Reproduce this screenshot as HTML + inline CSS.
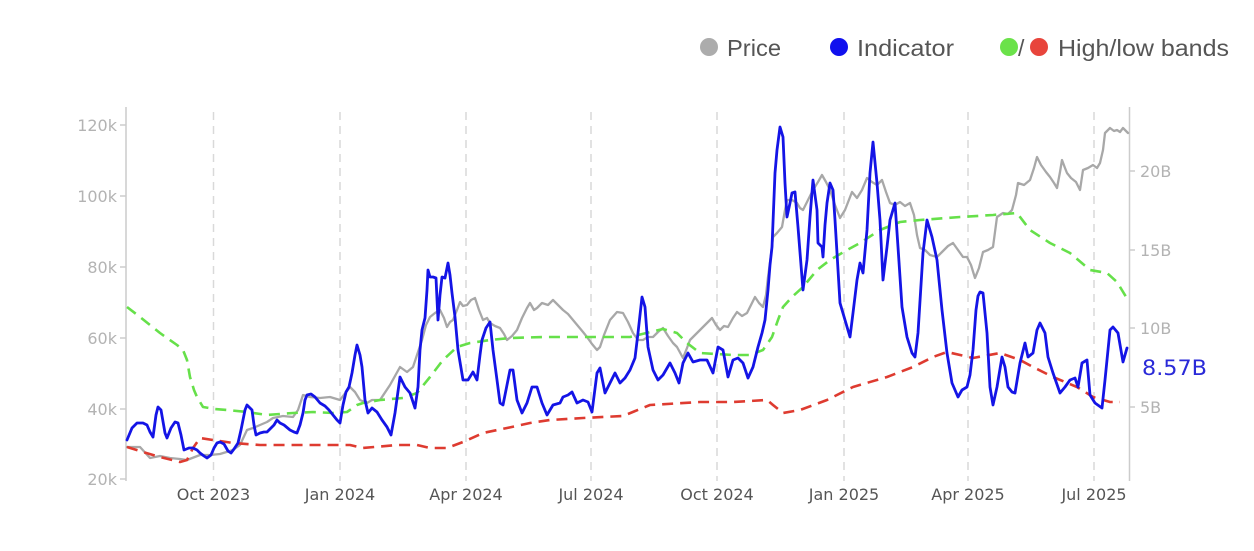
<!DOCTYPE html>
<html>
<head>
<meta charset="utf-8">
<style>
  html,body{margin:0;padding:0;background:#ffffff;}
  svg{display:block;}
</style>
</head>
<body>
<svg width="1254" height="551" viewBox="0 0 1254 551" xmlns="http://www.w3.org/2000/svg">
  <rect x="0" y="0" width="1254" height="551" fill="#ffffff"/>

  <!-- Legend -->
  <circle cx="709" cy="47" r="9" fill="#acacac"/>
  <text x="727" y="56" font-family="Liberation Sans, sans-serif" font-size="23" fill="#555555" textLength="54" lengthAdjust="spacingAndGlyphs">Price</text>
  <circle cx="839" cy="47" r="9" fill="#1010ee"/>
  <text x="857" y="56" font-family="Liberation Sans, sans-serif" font-size="23" fill="#555555" textLength="97" lengthAdjust="spacingAndGlyphs">Indicator</text>
  <circle cx="1009" cy="47" r="9" fill="#6be24a"/>
  <text x="1018" y="56" font-family="Liberation Sans, sans-serif" font-size="23" fill="#555555">/</text>
  <circle cx="1039" cy="47" r="9" fill="#e8453c"/>
  <text x="1058" y="56" font-family="Liberation Sans, sans-serif" font-size="23" fill="#555555" textLength="171" lengthAdjust="spacingAndGlyphs">High/low bands</text>

  <!-- Vertical gridlines -->
  <g stroke="#d9d9d9" stroke-width="1.5" stroke-dasharray="8,6">
    <line x1="213.5" y1="112" x2="213.5" y2="481"/>
    <line x1="340" y1="112" x2="340" y2="481"/>
    <line x1="466" y1="112" x2="466" y2="481"/>
    <line x1="591" y1="112" x2="591" y2="481"/>
    <line x1="717" y1="112" x2="717" y2="481"/>
    <line x1="844" y1="112" x2="844" y2="481"/>
    <line x1="968" y1="112" x2="968" y2="481"/>
    <line x1="1094" y1="112" x2="1094" y2="481"/>
  </g>

  <!-- Axes -->
  <g stroke="#cccccc" stroke-width="1.5" fill="none">
    <line x1="126" y1="107" x2="126" y2="481"/>
    <line x1="1129.5" y1="107" x2="1129.5" y2="481"/>
    <line x1="120" y1="125" x2="126" y2="125"/>
    <line x1="120" y1="196" x2="126" y2="196"/>
    <line x1="120" y1="267" x2="126" y2="267"/>
    <line x1="120" y1="338" x2="126" y2="338"/>
    <line x1="120" y1="409" x2="126" y2="409"/>
    <line x1="120" y1="479" x2="126" y2="479"/>
    <line x1="1129" y1="171" x2="1135" y2="171"/>
    <line x1="1129" y1="250" x2="1135" y2="250"/>
    <line x1="1129" y1="328" x2="1135" y2="328"/>
    <line x1="1129" y1="407" x2="1135" y2="407"/>
  </g>

  <!-- Left tick labels -->
  <g font-family="DejaVu Sans, sans-serif" font-size="16" fill="#b3b3b3" text-anchor="end">
    <text x="117" y="131">120k</text>
    <text x="117" y="202">100k</text>
    <text x="117" y="273">80k</text>
    <text x="117" y="344">60k</text>
    <text x="117" y="415">40k</text>
    <text x="117" y="485">20k</text>
  </g>

  <!-- Right tick labels -->
  <g font-family="DejaVu Sans, sans-serif" font-size="16" fill="#b3b3b3">
    <text x="1140" y="177">20B</text>
    <text x="1140" y="256">15B</text>
    <text x="1140" y="334">10B</text>
    <text x="1140" y="413">5B</text>
  </g>

  <!-- X tick labels -->
  <g font-family="DejaVu Sans, sans-serif" font-size="16" fill="#555555" text-anchor="middle">
    <text x="213.5" y="500">Oct 2023</text>
    <text x="340" y="500">Jan 2024</text>
    <text x="466" y="500">Apr 2024</text>
    <text x="591" y="500">Jul 2024</text>
    <text x="717" y="500">Oct 2024</text>
    <text x="844" y="500">Jan 2025</text>
    <text x="968" y="500">Apr 2025</text>
    <text x="1094" y="500">Jul 2025</text>
  </g>

  <!-- Price (grey) -->
  <polyline fill="none" stroke="#a8a8a8" stroke-width="2.3" stroke-linejoin="round" stroke-linecap="round" points="127,447 140,447 150,458 160,456 170,458 180,459 187,460 200,455 210,455 220,454 233,450 240,445 247,430 253,428 260,425 267,422 273,418 283,416 293,417 298,410 303,395 310,397 320,398 330,397 340,400 350,387 355,392 360,400 367,403 372,400 380,400 390,385 400,367 407,372 413,367 418,352 422,340 426,325 430,317 435,313 440,310 444,318 447,327 450,322 453,320 457,310 460,302 463,306 467,305 471,300 475,298 479,310 483,320 487,318 490,323 495,326 500,328 504,334 507,340 512,336 517,330 522,318 527,308 530,303 534,310 537,308 542,303 548,305 553,300 558,305 563,310 568,314 573,320 578,326 583,332 587,337 592,344 597,350 600,347 604,335 610,320 617,312 623,313 628,322 633,333 638,340 643,340 648,337 653,337 658,332 663,328 668,336 673,343 677,347 683,358 687,348 690,340 695,335 700,330 706,324 712,318 716,325 720,330 724,326 728,327 733,318 737,312 742,316 747,313 751,305 755,297 759,303 763,307 766,295 768,277 771,255 773,237 777,233 782,227 785,210 787,200 792,200 797,203 800,208 803,210 808,200 813,190 818,182 822,175 826,182 830,190 835,205 840,218 845,210 852,192 857,198 862,190 867,178 872,182 877,185 882,180 886,192 890,203 895,205 900,202 905,206 910,203 914,215 917,235 920,248 925,250 930,255 937,257 942,252 948,246 953,243 958,250 963,257 967,257 971,265 975,278 979,268 983,252 988,250 993,247 995,232 997,217 1003,213 1008,214 1012,210 1016,195 1018,183 1024,185 1030,180 1034,168 1037,157 1041,165 1046,172 1050,177 1054,183 1057,188 1060,172 1062,160 1065,168 1067,173 1071,178 1076,182 1080,190 1083,170 1088,168 1093,165 1097,168 1100,163 1103,150 1105,133 1108,130 1110,128 1114,131 1117,130 1120,132 1123,128 1126,131 1128,133"/>

  <!-- High band (green dashed) -->
  <polyline fill="none" stroke="#66e04a" stroke-width="2.6" stroke-dasharray="11,7" stroke-linejoin="round" points="127,307 140,317 160,333 177,345 183,350 187,360 190,377 194,390 197,397 203,407 215,409 227,410 247,412 267,415 293,413 313,412 333,413 347,412 357,405 363,403 380,400 403,398 417,393 430,377 443,360 457,347 470,343 490,340 510,338 543,337 583,337 630,337 663,329 677,333 687,343 700,353 733,355 750,355 763,350 772,337 778,320 783,307 792,297 803,287 817,270 830,260 847,250 860,243 880,230 900,222 920,220 960,217 993,215 1017,213 1030,230 1050,243 1070,253 1090,270 1107,273 1117,282 1128,300"/>

  <!-- Low band (red dashed) -->
  <polyline fill="none" stroke="#de3b30" stroke-width="2.6" stroke-dasharray="11,7" stroke-linejoin="round" points="127,447 143,452 160,457 180,462 187,460 193,448 200,438 213,440 233,443 260,445 293,445 327,445 350,445 363,448 397,445 417,445 430,448 447,448 463,442 483,433 507,428 530,423 550,420 583,418 623,416 650,405 700,402 733,402 767,400 773,405 783,413 800,410 827,400 853,387 887,377 913,367 933,357 947,352 973,358 1000,353 1020,360 1033,367 1053,377 1077,387 1093,397 1110,402 1120,402"/>

  <!-- Indicator (blue) -->
  <polyline fill="none" stroke="#1414e6" stroke-width="2.8" stroke-linejoin="round" stroke-linecap="round" points="127,440 132,428 137,423 143,423 147,425 150,432 153,437 156,415 158,407 161,410 165,433 167,438 171,428 175,422 178,423 181,435 184,450 189,448 193,448 197,450 200,453 204,456 207,458 211,455 214,448 217,443 220,442 224,444 228,451 231,453 234,449 238,443 241,430 243,420 245,410 247,405 250,408 252,410 254,425 256,435 260,433 264,432 267,432 271,428 274,425 277,420 280,423 284,425 290,430 294,432 297,433 300,425 303,413 305,400 307,395 311,394 315,397 320,403 325,406 329,410 333,415 337,420 340,423 343,405 346,392 349,387 352,373 355,355 357,345 360,355 362,367 365,400 368,413 372,408 377,412 382,420 387,427 391,435 395,413 400,377 405,387 410,393 415,408 418,387 420,350 422,330 425,318 427,290 428,270 430,277 433,277 436,278 438,320 440,295 442,277 445,278 448,263 450,275 452,293 455,317 458,350 463,380 468,380 473,372 477,380 480,355 482,340 486,328 490,322 493,350 497,380 500,403 503,405 507,385 510,370 513,370 517,400 522,413 527,403 532,387 537,387 542,403 547,415 553,405 560,403 563,397 568,395 572,392 577,403 583,400 588,402 592,412 597,373 600,368 605,393 610,383 615,373 620,383 625,378 630,370 635,358 638,333 642,297 645,307 648,347 653,370 658,380 663,375 670,363 675,373 679,383 683,363 688,353 693,362 700,360 707,360 713,373 718,347 723,350 728,377 733,360 738,358 743,363 748,378 753,367 758,347 762,333 765,320 768,290 770,265 772,247 775,173 777,150 780,127 783,137 785,183 787,217 790,203 792,193 795,192 798,227 801,265 803,290 807,260 810,217 813,180 815,195 817,210 818,243 822,247 823,257 825,225 827,203 830,183 833,190 835,220 837,253 840,303 845,320 850,337 853,313 857,280 860,263 863,273 867,230 870,173 873,142 877,183 880,220 883,280 887,247 890,220 895,203 898,247 902,307 907,337 912,353 915,357 918,333 923,253 927,220 932,237 937,260 942,310 947,353 952,383 955,390 958,397 962,390 967,387 970,375 973,350 976,310 978,296 980,292 983,293 987,333 990,387 993,405 997,387 1002,357 1005,367 1008,387 1012,392 1015,393 1020,363 1025,343 1028,357 1033,353 1037,330 1040,323 1045,333 1048,357 1053,373 1060,393 1065,387 1070,380 1075,378 1078,387 1082,363 1087,360 1090,395 1095,403 1102,408 1105,380 1110,330 1113,327 1118,333 1123,362 1127,348"/>

  <!-- Last value label -->
  <text x="1142" y="375" font-family="DejaVu Sans, sans-serif" font-size="21" fill="#2a2ad8" textLength="65" lengthAdjust="spacingAndGlyphs">8.57B</text>
</svg>
</body>
</html>
